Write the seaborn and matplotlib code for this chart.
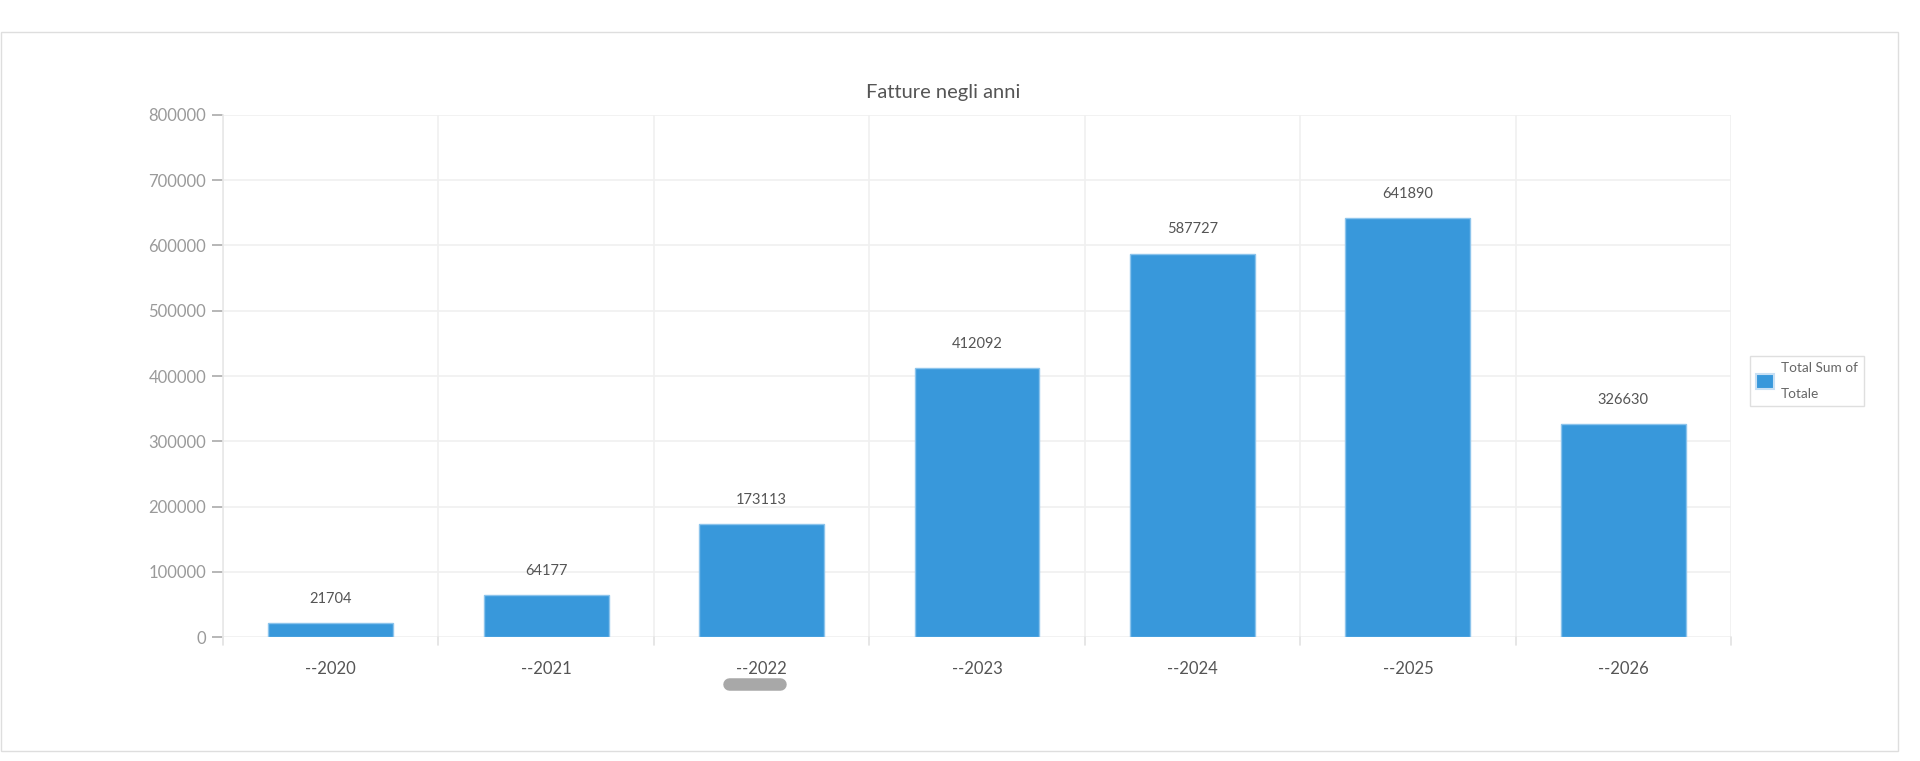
import pandas as pd
import seaborn as sns
import matplotlib.pyplot as plt
from matplotlib.patches import Rectangle
from matplotlib.lines import Line2D

# Data
years = ['--2020', '--2021', '--2022', '--2023', '--2024', '--2025', '--2026']
totals = [21704, 64177, 173113, 412092, 587727, 641890, 326630]
y_ticks = [0, 100000, 200000, 300000, 400000, 500000, 600000, 700000, 800000]
legend_label = 'Total Sum of\nTotale'
title = 'Fatture negli anni'

df = pd.DataFrame({'Anno': years, 'Totale': totals})

sns.set_theme(style='white')
plt.rcParams['font.family'] = ['Lato', 'DejaVu Sans']

bar_color = '#3898db'
grid_color = '#f0f0f0'

fig = plt.figure(figsize=(19.2, 7.61), dpi=100)
ax = fig.add_axes([0.1161, 0.1629, 0.7855, 0.686])

# Outer container border
fig.patches.append(Rectangle((0.0005, 0.013), 0.988, 0.945, transform=fig.transFigure,
                             fill=False, edgecolor='#dedede', linewidth=1.0))

sns.barplot(data=df, x='Anno', y='Totale', color=bar_color, width=0.58,
            edgecolor='#8cc4ec', linewidth=1.0, saturation=1, ax=ax, zorder=3)

ax.set_ylim(0, 800000)
ax.set_xlim(-0.5, len(years) - 0.5)
ax.set_yticks(y_ticks)
ax.set_yticklabels([str(v) for v in y_ticks])

# Grid: horizontal at ticks, vertical at category boundaries
for v in y_ticks:
    ax.axhline(v, color=grid_color, linewidth=1.2, zorder=0)
for i in range(len(years) + 1):
    ax.axvline(i - 0.5, color=grid_color, linewidth=1.2, zorder=0)
    ax.plot([i - 0.5, i - 0.5], [0, -12000], color='#e2e2e2', linewidth=1.2,
            clip_on=False, zorder=1)

for s in ['top', 'right', 'bottom']:
    ax.spines[s].set_visible(False)
ax.spines['left'].set_color('#e8e8e8')
ax.spines['left'].set_linewidth(1.2)

ax.tick_params(axis='y', length=8, width=1.2, color='#aaaaaa', labelsize=12,
               labelcolor='#9a9a9a', pad=4, left=True)
ax.tick_params(axis='x', length=0, labelsize=12, labelcolor='#555555', pad=17)
ax.set_xlabel('')
ax.set_ylabel('')

# Value labels above bars
for i, v in enumerate(totals):
    ax.annotate(str(v), (i, v), xytext=(0, 17.5), textcoords='offset points',
                ha='center', va='center', fontsize=10.5, color='#555555')

fig.text(0.4915, 0.879, title, ha='center', va='center', fontsize=14.5, color='#555555')

# Scrollbar pill under the x axis
fig.lines.append(Line2D([0.3795, 0.4065], [0.1015, 0.1015], transform=fig.transFigure,
                        color='#a8a8a8', linewidth=9, solid_capstyle='round'))

handles = [Rectangle((0, 0), 1, 1, facecolor=bar_color, edgecolor='#c8e0f4', linewidth=1.5)]
leg = fig.legend(handles, [legend_label], loc='center left',
                 bbox_to_anchor=(0.9115, 0.4995), frameon=True, fancybox=False,
                 fontsize=9.8, labelcolor='#666666', handlelength=1.3, handleheight=1.3,
                 handletextpad=0.5, borderpad=0.45, borderaxespad=0)
leg.get_frame().set_edgecolor('#d8d8d8')
leg.get_frame().set_linewidth(1.0)
for t in leg.get_texts():
    t.set_linespacing(2.4)

fig.savefig('out.png', dpi=100)
